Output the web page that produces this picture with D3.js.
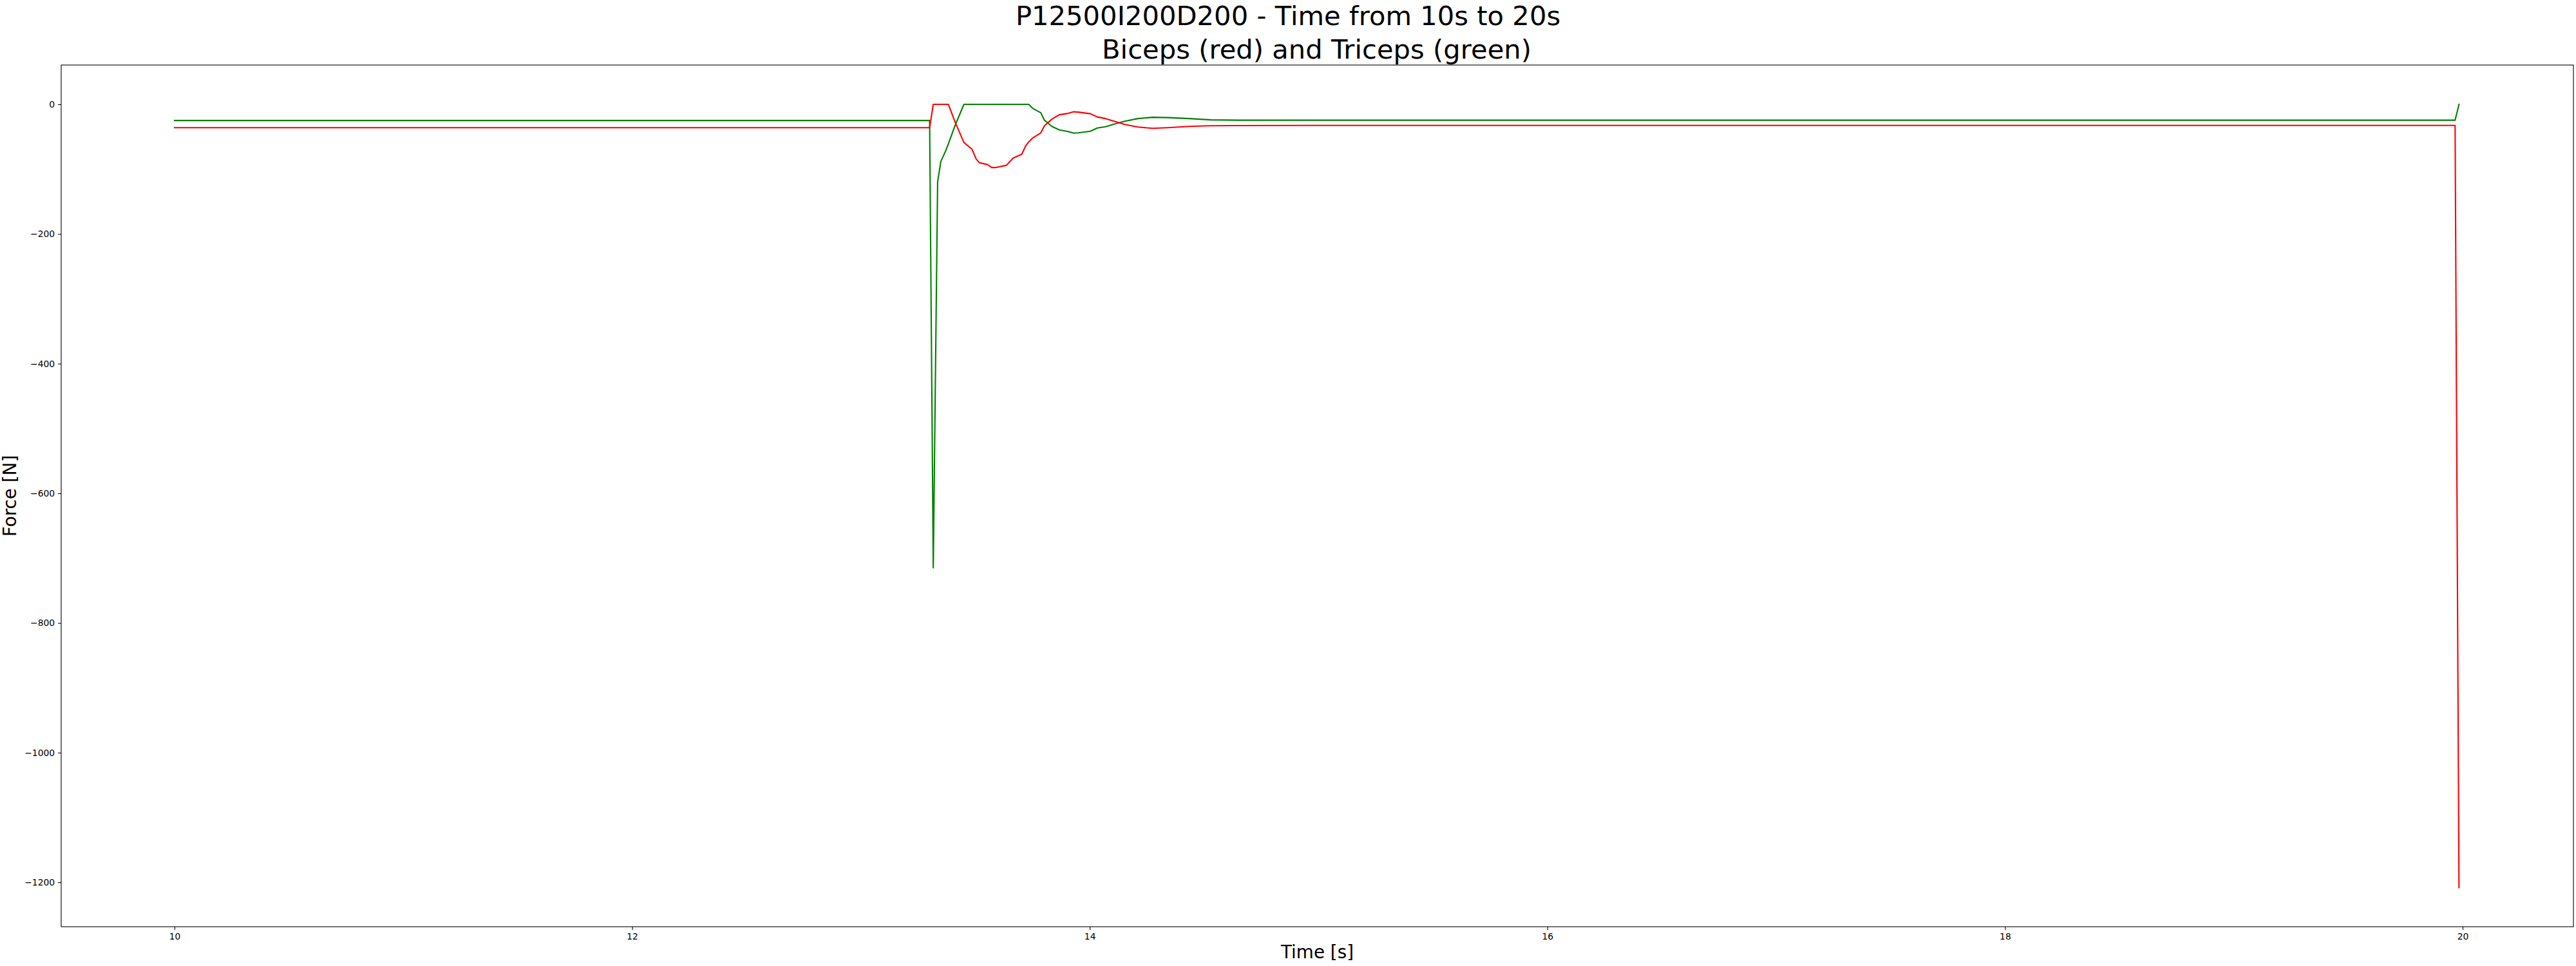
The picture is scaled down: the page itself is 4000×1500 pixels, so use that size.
<!DOCTYPE html>
<html>
<head>
<meta charset="utf-8">
<script src="https://cdn.jsdelivr.net/npm/d3@7"></script>
<style>
  html, body { margin: 0; padding: 0; background: #fff; }
  svg { display: block; font-family: "DejaVu Sans", sans-serif; }
</style>
</head>
<body>
<svg id="chart" width="4000" height="1500"></svg>
<script>
// ---- data ----
const time = [10.0, 13.30, 13.316, 13.335, 13.349, 13.37, 13.382, 13.412, 13.45, 13.485, 13.503, 13.517,
  13.553, 13.572, 13.588, 13.636, 13.665, 13.703, 13.72, 13.733, 13.75, 13.786, 13.802, 13.834, 13.867,
  13.905, 13.93, 13.95, 14.003, 14.033, 14.069, 14.116, 14.153, 14.21, 14.275, 14.341, 14.435, 14.529,
  14.65, 15.0, 19.967, 19.984];
const biceps = [-36, -36, 0, 0, 0, 0, 0, -28, -59, -69, -84, -90,
  -93, -97.5, -97.5, -94, -83, -77, -64, -58, -52, -44, -33, -23, -16,
  -14, -11.5, -12, -14.5, -19.5, -22, -27, -31, -35, -37, -36, -34, -33,
  -32.7, -32.5, -32.5, -1208];
const triceps = [-25, -25, -715, -120, -88, -72, -61, -32, 0, 0, 0, 0,
  0, 0, 0, 0, 0, 0, 0, 0, -6, -13, -24.5, -34, -39.5,
  -42, -44.5, -44, -41.5, -36.5, -34.5, -29.5, -26, -22, -20, -20.5, -22, -24,
  -24.5, -24.5, -24.5, 0];
const xTicks = [10, 12, 14, 16, 18, 20];
const yTicks = [0, -200, -400, -600, -800, -1000, -1200];
const titleLines = ["P12500I200D200 - Time from 10s to 20s", "Biceps (red) and Triceps (green)"];
const xLabel = "Time [s]";
const yLabel = "Force [N]";

// ---- layout ----
const svg = d3.select("#chart");
const L = 95, R = 3996, T = 101, B = 1439;
const x = d3.scaleLinear().domain([9.5046, 20.4841]).range([L, R]);
const y = d3.scaleLinear().domain([-1268.5, 60.6]).range([B, T]);

// series
const series = [
  { values: triceps, color: "#008000" },
  { values: biceps, color: "#ff0000" }
];
const line = d3.line().x(d => x(d[0])).y(d => y(d[1]));
series.forEach(s => {
  svg.append("path")
    .datum(time.map((t, i) => [t, s.values[i]]))
    .attr("d", line)
    .attr("fill", "none")
    .attr("stroke", s.color)
    .attr("stroke-width", 2.1)
    .attr("stroke-linejoin", "round")
    .attr("stroke-linecap", "square");
});

// axes
const fmt = d => (d < 0 ? "\u2212" + Math.abs(d) : String(d));
const xAxis = svg.append("g").attr("transform", `translate(0,${B})`)
  .call(d3.axisBottom(x).tickValues(xTicks).tickFormat(fmt).tickSize(4.9).tickPadding(4.9));
const yAxis = svg.append("g").attr("transform", `translate(${L},0)`)
  .call(d3.axisLeft(y).tickValues(yTicks).tickFormat(fmt).tickSize(4.9).tickPadding(4.9));
[xAxis, yAxis].forEach(g => {
  g.select(".domain").remove();
  g.selectAll(".tick line").attr("stroke", "#000").attr("stroke-width", 1.1);
  g.selectAll(".tick text").attr("fill", "#000")
    .style("font-family", "DejaVu Sans").style("font-size", "13.9px");
});

// frame
svg.append("rect")
  .attr("x", L).attr("y", T).attr("width", R - L).attr("height", B - T)
  .attr("fill", "none").attr("stroke", "#000").attr("stroke-width", 1.1);

// titles
svg.append("text").attr("x", 2000).attr("y", 39).attr("text-anchor", "middle")
  .style("font-size", "41.7px").text(titleLines[0]);
svg.append("text").attr("x", 2044.5).attr("y", 91).attr("text-anchor", "middle")
  .style("font-size", "41.7px").text(titleLines[1]);

// axis labels
svg.append("text").attr("x", (L + R) / 2).attr("y", 1488).attr("text-anchor", "middle")
  .style("font-size", "27.8px").text(xLabel);
svg.append("text").attr("transform", `translate(25,${(T + B) / 2}) rotate(-90)`)
  .attr("text-anchor", "middle").style("font-size", "27.8px").text(yLabel);
</script>
</body>
</html>
